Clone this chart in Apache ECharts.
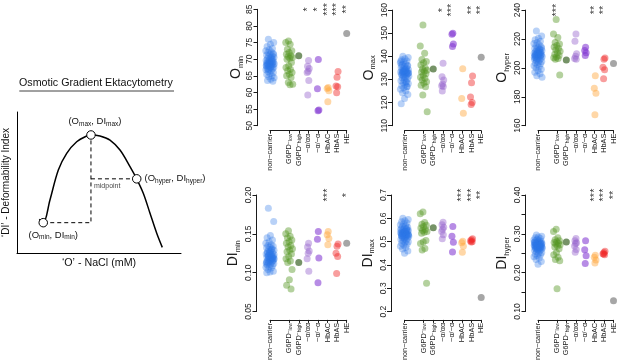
<!DOCTYPE html>
<html><head><meta charset="utf-8">
<script src="https://cdn.jsdelivr.net/npm/echarts@6/dist/echarts.min.js"></script>
<style>html,body{margin:0;padding:0;background:#fff}#c{width:617px;height:363px}</style>
</head><body><div id="c"></div>
<script>
// ---------- categories ----------
const categories = ['non-carrier', 'G6PD-low', 'G6PD-high', '-α/αα', '-α/-α', 'HbAC', 'HbAS', 'HE'];

// ---------- O_min ----------
const ominNC = [76.0, 75.0, 74.5, 73.8, 73.2, 72.8, 72.5, 72.2, 72.0, 71.7, 71.5, 71.2, 71.0, 70.8, 70.6, 70.4, 70.2, 70.0, 69.8, 69.6, 69.5, 69.3, 69.2, 69.0, 68.9, 68.8, 68.7, 68.6, 68.5, 68.4, 68.3, 68.2, 68.0, 67.9, 67.8, 67.6, 67.5, 67.3, 67.1, 67.0, 66.8, 66.5, 66.3, 66.0, 65.7, 65.4, 65.0, 64.7, 64.4, 64.0, 63.6, 63.4, 69.1, 68.1, 70.3, 66.9, 71.4, 67.7, 68.6, 69.4];
const ominG6low = [75.5, 75.0, 74.5, 73.0, 72.5, 72.0, 71.5, 71.0, 70.8, 70.5, 70.3, 70.0, 69.0, 68.0, 67.5, 67.0, 66.5, 66.0, 65.5, 65.0, 64.5, 63.0, 62.5, 62.3];
const ominG6high = [71.0];
const ominAaa = [69.6, 67.9, 67.2, 66.4, 66.0, 63.6, 59.2];
const ominAa = [69.9, 61.1, 54.7, 54.5];
const ominHbAC = [61.5, 61.2, 60.5, 57.2];
const ominHbAS = [66.3, 64.6, 61.9, 61.7, 59.9];
const ominHE = [77.7];

// ---------- O_max ----------
const omaxNC = [140.0, 139.5, 139.0, 138.5, 138.0, 137.5, 137.2, 136.8, 136.5, 136.0, 135.6, 135.2, 134.8, 134.5, 134.2, 134.0, 133.8, 133.6, 133.4, 133.2, 133.0, 132.8, 132.6, 132.4, 132.2, 132.0, 131.7, 131.4, 131.0, 130.6, 130.2, 129.8, 129.4, 129.0, 128.6, 128.2, 127.8, 127.3, 126.8, 126.3, 125.8, 125.0, 124.2, 123.5, 121.8, 119.5, 133.1, 133.5, 132.9, 134.6, 131.9, 135.8, 130.8, 137.9, 128.9, 133.3, 132.7, 134.1, 136.3, 127.0];
const omaxG6low = [153.5, 144.5, 141.3, 138.6, 137.8, 137.2, 136.2, 135.0, 134.5, 134.0, 133.5, 133.2, 132.5, 131.8, 131.0, 130.5, 129.8, 129.0, 128.4, 127.5, 126.8, 123.3, 116.0];
const omaxG6high = [134.5];
const omaxAaa = [137.0, 131.2, 129.8, 128.0, 127.3, 127.0, 125.0];
const omaxAa = [150.0, 149.5, 145.3, 144.2];
const omaxHbAC = [134.6, 121.8, 115.4];
const omaxHbAS = [131.5, 128.6, 122.4, 120.0, 119.2];
const omaxHE = [139.6];

// ---------- O_hyper ----------
const ohypNC = [225.5, 222.0, 220.5, 219.5, 218.5, 217.5, 216.8, 216.0, 215.3, 214.7, 214.0, 213.5, 213.0, 212.5, 212.0, 211.6, 211.2, 210.8, 210.5, 210.2, 209.9, 209.6, 209.3, 209.0, 208.7, 208.4, 208.1, 207.8, 207.5, 207.1, 206.7, 206.3, 205.9, 205.5, 205.0, 204.5, 204.0, 203.4, 202.8, 202.2, 201.5, 200.8, 200.0, 199.0, 198.0, 197.0, 196.0, 194.5, 193.5, 210.0, 209.2, 208.9, 211.4, 207.3, 212.7, 206.0, 213.8, 209.5, 208.2, 210.6];
const ohypG6low = [233.5, 223.5, 221.0, 217.5, 216.5, 215.5, 214.5, 213.5, 212.5, 211.5, 210.5, 209.5, 208.5, 207.5, 207.0, 206.5, 206.0, 195.0];
const ohypG6high = [205.5];
const ohypAaa = [223.5, 218.5, 209.8, 208.0, 206.5, 206.0];
const ohypAa = [214.2, 212.0, 210.5, 208.5];
const ohypHbAC = [194.5, 186.0, 182.5, 167.5];
const ohypHbAS = [206.8, 206.0, 200.5, 198.8, 192.5];
const ohypHE = [203.0];

// ---------- DI_min ----------
const dminNC = [0.183, 0.166, 0.148, 0.145, 0.142, 0.140, 0.138, 0.136, 0.135, 0.134, 0.133, 0.132, 0.131, 0.130, 0.129, 0.128, 0.127, 0.126, 0.125, 0.124, 0.123, 0.122, 0.121, 0.120, 0.120, 0.119, 0.118, 0.118, 0.117, 0.116, 0.116, 0.115, 0.114, 0.114, 0.113, 0.112, 0.111, 0.110, 0.109, 0.108, 0.107, 0.106, 0.104, 0.102, 0.101, 0.100, 0.121, 0.119, 0.123, 0.117, 0.125, 0.115, 0.127, 0.112, 0.130, 0.122, 0.118, 0.124, 0.113, 0.120];
const dminG6low = [0.154, 0.150, 0.147, 0.145, 0.142, 0.140, 0.138, 0.135, 0.133, 0.131, 0.129, 0.127, 0.124, 0.121, 0.118, 0.115, 0.113, 0.104, 0.091, 0.084, 0.079];
const dminG6high = [0.113];
const dminAaa = [0.138, 0.133, 0.128, 0.125, 0.118, 0.102];
const dminAa = [0.153, 0.143, 0.119, 0.087];
const dminHbAC = [0.153, 0.149, 0.144, 0.136];
const dminHbAS = [0.137, 0.134, 0.125, 0.121, 0.099];
const dminHE = [0.138];

// ---------- DI_max ----------
const dmaxNC = [0.600, 0.595, 0.590, 0.585, 0.580, 0.576, 0.572, 0.568, 0.565, 0.562, 0.559, 0.556, 0.553, 0.550, 0.548, 0.546, 0.544, 0.542, 0.540, 0.538, 0.536, 0.534, 0.532, 0.530, 0.528, 0.526, 0.524, 0.522, 0.520, 0.518, 0.515, 0.512, 0.509, 0.506, 0.503, 0.500, 0.497, 0.493, 0.489, 0.485, 0.480, 0.475, 0.468, 0.460, 0.450, 0.535, 0.531, 0.539, 0.527, 0.543, 0.523, 0.547, 0.519, 0.551, 0.533, 0.537, 0.529, 0.541, 0.525, 0.555];
const dmaxG6low = [0.627, 0.620, 0.582, 0.575, 0.570, 0.565, 0.558, 0.552, 0.548, 0.544, 0.540, 0.536, 0.505, 0.498, 0.492, 0.471, 0.464, 0.322];
const dmaxG6high = [0.560];
const dmaxAaa = [0.583, 0.572, 0.562, 0.553, 0.543, 0.530, 0.512];
const dmaxAa = [0.565, 0.523, 0.497, 0.456];
const dmaxHbAC = [0.502, 0.495, 0.480, 0.455];
const dmaxHbAS = [0.512, 0.508, 0.504, 0.500, 0.498];
const dmaxHE = [0.260];

// ---------- DI_hyper ----------
const dhypNC = [0.297, 0.294, 0.292, 0.290, 0.288, 0.286, 0.284, 0.283, 0.282, 0.281, 0.280, 0.279, 0.278, 0.277, 0.276, 0.275, 0.274, 0.273, 0.272, 0.271, 0.270, 0.269, 0.268, 0.267, 0.266, 0.265, 0.264, 0.263, 0.262, 0.261, 0.260, 0.259, 0.258, 0.256, 0.254, 0.252, 0.250, 0.248, 0.246, 0.244, 0.241, 0.238, 0.234, 0.229, 0.222, 0.270, 0.268, 0.272, 0.266, 0.274, 0.264, 0.276, 0.262, 0.278, 0.271, 0.269, 0.273, 0.267, 0.275, 0.265];
const dhypG6low = [0.312, 0.306, 0.290, 0.285, 0.282, 0.280, 0.278, 0.276, 0.274, 0.272, 0.269, 0.266, 0.262, 0.252, 0.246, 0.240, 0.234, 0.231, 0.159];
const dhypG6high = [0.279];
const dhypAaa = [0.288, 0.282, 0.277, 0.275, 0.269, 0.260, 0.253];
const dhypAa = [0.282, 0.259, 0.244, 0.224];
const dhypHbAC = [0.245, 0.240, 0.233, 0.225];
const dhypHbAS = [0.255, 0.252, 0.249, 0.246, 0.248];
const dhypHE = [0.128];

// ---------- significance ----------
const sigOmin = ['', '', '', '*', '*', '***', '***', '**'];
const sigOmax = ['', '', '', '*', '***', '', '**', '**'];
const sigOhyper = ['', '***', '', '', '', '**', '**', ''];
const sigDImin = ['', '', '', '', '', '***', '', '*'];
const sigDImax = ['', '', '', '', '', '***', '***', '**'];
const sigDIhyper = ['', '', '', '', '', '***', '***', '**'];

// ---------- tick values ----------
const ticksOmin = [50, 85, 5];
const ticksOmax = [110, 160, 10];
const ticksOhyper = [160, 240, 20];
const ticksDImin = [0.05, 0.20, 0.05];
const ticksDImax = [0.2, 0.7, 0.1];
const ticksDIhyper = [0.10, 0.40, 0.05];

// ---------- schematic curve ----------
const curveNaCl = [13.6, 16.0, 20.1, 25.2, 30.3, 36.4, 42.5, 45.1, 50.6, 56.7, 62.8, 68.9, 73.0, 77.0, 81.1, 85.2, 88.6];
const curveDI = [0.239, 0.215, 0.376, 0.589, 0.707, 0.789, 0.830, 0.837, 0.830, 0.801, 0.730, 0.612, 0.525, 0.424, 0.282, 0.140, 0.040];
const keyNaCl = [16.0, 45.1, 73.0];
const keyDI = [0.215, 0.837, 0.526];

// ================= rendering =================
const FONT = 'Liberation Sans, Arial, Helvetica, sans-serif';
const INK = '#1a1a1a';
const catPos = [0, 2, 3, 4, 5, 6, 7, 8];
const jitW = [0.45, 0.37, 0, 0.14, 0.12, 0.14, 0.14, 0];
const colors = ['rgba(45,120,230,0.42)', 'rgba(85,150,35,0.55)', 'rgba(65,105,45,0.9)', 'rgba(150,100,205,0.55)', 'rgba(130,55,210,0.72)', 'rgba(255,165,55,0.55)', 'rgba(240,35,35,0.55)', 'rgba(125,125,125,0.85)'];
const catRichText = {
  'non-carrier': 'non\u2212carrier',
  'G6PD-low': 'G6PD{sup|\u2212}{sub|low}',
  'G6PD-high': 'G6PD{sup|\u2212}{sub|high}',
  '-α/αα': '\u2212\u03b1/\u03b1\u03b1',
  '-α/-α': '\u2212\u03b1/\u2212\u03b1',
  'HbAC': 'HbAC', 'HbAS': 'HbAS', 'HE': 'HE'
};
function jit(i, w) { return (((i * 0.6180339887 + 0.31) % 1) - 0.5) * 2 * w; }

const panels = [
  { name: 'O{s|min}', groups: [ominNC, ominG6low, ominG6high, ominAaa, ominAa, ominHbAC, ominHbAS, ominHE], t: ticksOmin, sig: sigOmin, fmt: v => String(v), left: 270, top: 9.3, h: 116.4, xoff: 5, yoff: 12.5, lm: 3, gap: 13 },
  { name: 'O{s|max}', groups: [omaxNC, omaxG6low, omaxG6high, omaxAaa, omaxAa, omaxHbAC, omaxHbAS, omaxHE], t: ticksOmax, sig: sigOmax, fmt: v => String(v), left: 404.5, top: 9.3, h: 116.4, xoff: 5, yoff: 12.5, lm: 3, gap: 15 },
  { name: 'O{s|hyper}', groups: [ohypNC, ohypG6low, ohypG6high, ohypAaa, ohypAa, ohypHbAC, ohypHbAS, ohypHE], t: ticksOhyper, sig: sigOhyper, fmt: v => String(v), left: 538, top: 9.3, h: 116.4, xoff: 5, yoff: 12.5, lm: 3, gap: 15 },
  { name: 'DI{s|min}', groups: [dminNC, dminG6low, dminG6high, dminAaa, dminAa, dminHbAC, dminHbAS, dminHE], t: ticksDImin, sig: sigDImin, fmt: v => v.toFixed(2), left: 270, top: 195, h: 116.7, xoff: 8.3, yoff: 13.5, lm: 3, gap: 15 },
  { name: 'DI{s|max}', groups: [dmaxNC, dmaxG6low, dmaxG6high, dmaxAaa, dmaxAa, dmaxHbAC, dmaxHbAS, dmaxHE], t: ticksDImax, sig: sigDImax, fmt: v => v.toFixed(1), left: 404.5, top: 195, h: 116.7, xoff: 8.3, yoff: 13.5, lm: 3, gap: 15 },
  { name: 'DI{s|hyper}', groups: [dhypNC, dhypG6low, dhypG6high, dhypAaa, dhypAa, dhypHbAC, dhypHbAS, dhypHE], t: ticksDIhyper, sig: sigDIhyper, fmt: v => (Math.round(v * 100) % 10 === 0 ? v.toFixed(2) : ''), left: 538, top: 195, h: 116.7, xoff: 8.3, yoff: 12.5, lm: 3, gap: 15 }
];
const PW = 76.7;

const grid = [], xAxis = [], yAxis = [], series = [];
panels.forEach((p, k) => {
  grid.push({ left: p.left, top: p.top, width: PW, height: p.h, containLabel: false });
  xAxis.push({
    gridIndex: k, type: 'value', min: 0, max: 8, offset: p.xoff,
    axisLine: { show: true, onZero: false, lineStyle: { color: INK, width: 1 } },
    axisTick: { show: true, length: 3, customValues: catPos, lineStyle: { color: INK, width: 1 } },
    axisLabel: {
      show: true, customValues: catPos, rotate: 90, margin: 3, fontSize: 7.3, color: INK, fontFamily: FONT,
      formatter: v => { const i = catPos.indexOf(Math.round(v)); return i < 0 ? '' : catRichText[categories[i]]; },
      rich: { sup: { fontSize: 5, verticalAlign: 'top', lineHeight: 5, fontFamily: FONT, color: INK }, sub: { fontSize: 5, verticalAlign: 'bottom', lineHeight: 5, fontFamily: FONT, color: INK } }
    },
    splitLine: { show: false }
  });
  yAxis.push({
    gridIndex: k, type: 'value', min: p.t[0], max: p.t[1], interval: p.t[2], offset: p.yoff,
    axisLine: { show: true, onZero: false, lineStyle: { color: INK, width: 1 } },
    axisTick: { show: true, length: 4, lineStyle: { color: INK, width: 1 } },
    axisLabel: { rotate: 90, fontSize: 8.5, margin: p.lm, color: INK, fontFamily: FONT, formatter: p.fmt },
    splitLine: { show: false },
    name: p.name, nameLocation: 'middle', nameRotate: 90, nameGap: p.gap,
    nameTextStyle: { fontSize: 14, color: INK, fontFamily: FONT, lineHeight: 16,
      rich: { s: { fontSize: 7.5, verticalAlign: 'bottom', lineHeight: 6, color: INK, fontFamily: FONT } } }
  });
  p.groups.forEach((vals, g) => {
    series.push({
      type: 'scatter', xAxisIndex: k, yAxisIndex: k, clip: false, silent: true, symbolSize: 7,
      itemStyle: { color: colors[g] },
      data: vals.map((v, i) => [catPos[g] + jit(i + g * 5, jitW[g]), v])
    });
  });
  series.push({
    type: 'scatter', xAxisIndex: k, yAxisIndex: k, clip: false, silent: true, symbolSize: 0,
    data: p.sig.map((s, g) => ({ value: [catPos[g], p.t[1]], label: { formatter: s } })).filter((d, g) => p.sig[g]),
    label: { show: true, position: 'inside', rotate: 90, fontSize: 11, color: '#000', fontFamily: FONT }
  });
});

// schematic panel
const D = panels.length;
grid.push({ left: 17, top: 112, width: 164, height: 141 });
xAxis.push({ gridIndex: D, type: 'value', min: 0, max: 100,
  axisLine: { show: true, onZero: false, lineStyle: { color: '#000', width: 1 } }, axisTick: { show: false }, axisLabel: { show: false }, splitLine: { show: false },
  name: "\u2018O\u2019 - NaCl (mM)", nameLocation: 'middle', nameGap: 5, nameTextStyle: { fontSize: 10.7, color: '#111', fontFamily: FONT, verticalAlign: 'top' } });
yAxis.push({ gridIndex: D, type: 'value', min: 0, max: 1,
  axisLine: { show: true, onZero: false, lineStyle: { color: '#000', width: 1 } }, axisTick: { show: false }, axisLabel: { show: false }, splitLine: { show: false },
  name: "\u2018DI\u2019 - Deformability Index", nameLocation: 'middle', nameRotate: 90, nameGap: 6, nameTextStyle: { fontSize: 10, color: '#111', fontFamily: FONT } });
const keyRich = { s: { fontSize: 6.5, verticalAlign: 'bottom', lineHeight: 6, color: '#111', fontFamily: FONT } };
series.push({ type: 'line', xAxisIndex: D, yAxisIndex: D, smooth: 0.35, symbol: 'none', silent: true,
  lineStyle: { color: '#000', width: 1.5 }, data: curveNaCl.map((x, i) => [x, curveDI[i]]) });
const midDI = (keyDI[0] + keyDI[1]) / 2;
series.push({ type: 'line', xAxisIndex: D, yAxisIndex: D, symbol: 'none', silent: true,
  lineStyle: { color: '#000', width: 1, type: [4, 3] }, data: [[keyNaCl[0], keyDI[0]], [keyNaCl[1], keyDI[0]], [keyNaCl[1], keyDI[1]]] });
series.push({ type: 'line', xAxisIndex: D, yAxisIndex: D, symbol: 'none', silent: true,
  lineStyle: { color: '#000', width: 1, type: [4, 3] }, data: [[keyNaCl[1], midDI], [keyNaCl[2], midDI]] });
series.push({ type: 'scatter', xAxisIndex: D, yAxisIndex: D, symbolSize: 0, silent: true, clip: false,
  data: [{ value: [keyNaCl[1], midDI], label: { show: true, formatter: 'midpoint', position: [3, 4], fontSize: 7, color: '#111', fontFamily: FONT } }] });
series.push({ type: 'scatter', xAxisIndex: D, yAxisIndex: D, symbol: 'circle', symbolSize: 8.5, silent: true, clip: false, z: 5,
  itemStyle: { color: '#ffffff', opacity: 1, borderColor: '#000', borderWidth: 1 },
  label: { show: true, fontSize: 9.5, color: '#111', fontFamily: FONT, lineHeight: 11, rich: keyRich },
  data: [
    { value: [keyNaCl[0], keyDI[0]], label: { formatter: '(O{s|min}, DI{s|min})', position: 'bottom', distance: 2, offset: [10, 0] } },
    { value: [keyNaCl[1], keyDI[1]], label: { formatter: '(O{s|max}, DI{s|max})', position: 'top', distance: 3, offset: [4, 0] } },
    { value: [keyNaCl[2], midDI], label: { formatter: '(O{s|hyper}, DI{s|hyper})', position: 'right', distance: 3 } }
  ] });

const chart = echarts.init(document.getElementById('c'), null, { renderer: 'canvas' });
chart.setOption({
  animation: false,
  backgroundColor: '#fff',
  textStyle: { fontFamily: FONT },
  title: { text: 'Osmotic Gradient Ektacytometry', left: 19, top: 78, padding: 0,
    textStyle: { fontSize: 10.7, fontWeight: 'normal', color: '#111', fontFamily: FONT } },
  graphic: [{ type: 'line', shape: { x1: 19.3, y1: 91, x2: 174, y2: 91 }, style: { stroke: '#111', lineWidth: 0.8 } }],
  grid, xAxis, yAxis, series
});
</script></body></html>
